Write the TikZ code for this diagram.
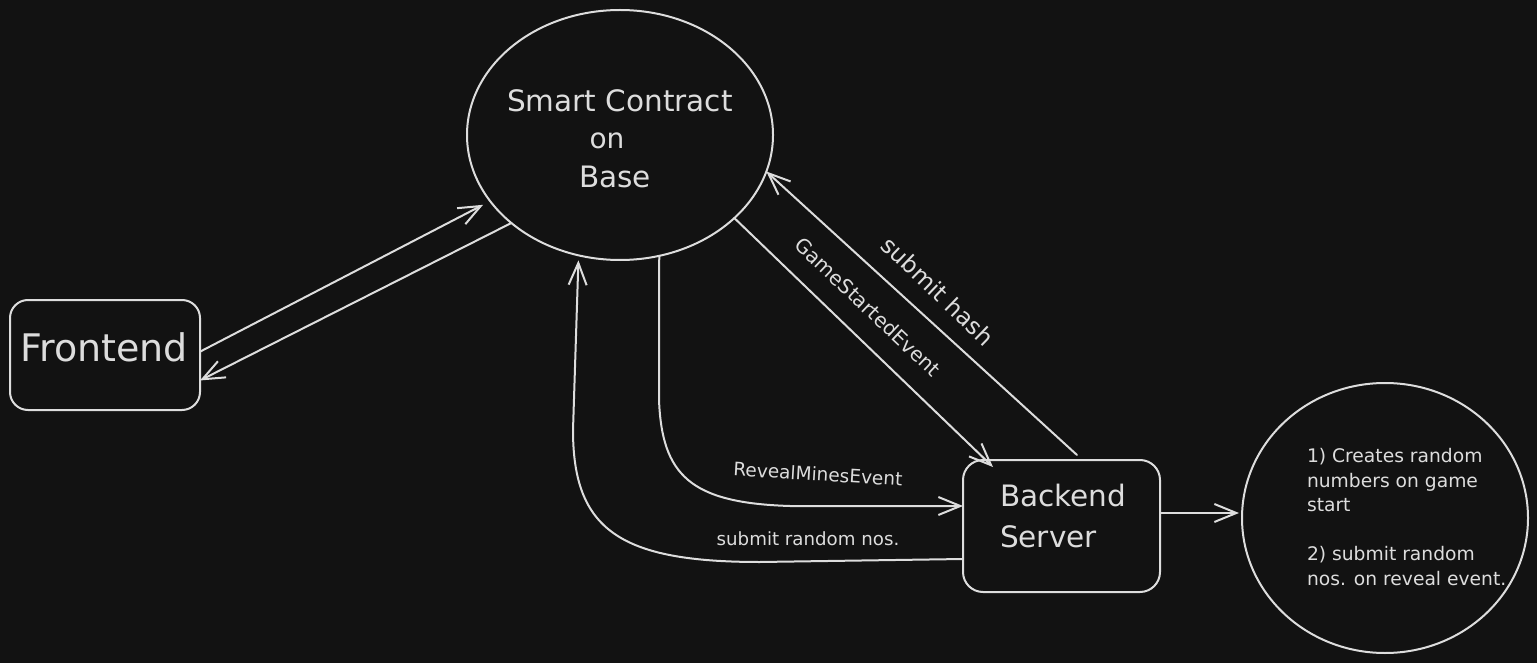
\documentclass[tikz,border=0pt]{standalone}
\usepackage{fontspec}
\setmainfont{DejaVu Sans}
\usetikzlibrary{arrows.meta,shapes.geometric}
\definecolor{bgc}{HTML}{121212}
\definecolor{ink}{HTML}{DDDDDD}
\begin{document}
\begin{tikzpicture}[x=1pt,y=-1pt,
  line width=2pt,
  every node/.style={inner sep=0pt, outer sep=0pt, text=ink},
  boxnode/.style={draw=ink, rounded corners=18pt},
  ellnode/.style={draw=ink, ellipse},
  arr/.style={draw=ink, line cap=round, line join=round, -{Straight Barb[length=22pt,width=18pt]}}]
\fill[bgc] (0,0) rectangle (1537,663);
\useasboundingbox (0,0) rectangle (1537,663);

% shapes
\node[ellnode, minimum width=306pt, minimum height=250pt] (sc) at (620,135) {};
\node[font=\fontsize{29.5}{34}\selectfont] (sct1) at (620,101) {Smart Contract};
\node[font=\fontsize{28}{34}\selectfont] (sct2) at (607,141) {on};
\node[font=\fontsize{29.5}{34}\selectfont] (sct3) at (615,177) {Base};

\node[boxnode, minimum width=190pt, minimum height=110pt] (fe) at (105,355) {};
\node[font=\fontsize{38}{44}\selectfont] (fet) at (104,347) {Frontend};

\node[boxnode, rounded corners=20pt, minimum width=197pt, minimum height=132pt] (be) at (1061.5,526) {};
\node[font=\fontsize{29.5}{41}\selectfont, align=left, anchor=west] (bet) at (1000,516) {Backend\\Server};

\node[ellnode, minimum width=286pt, minimum height=270pt] (nt) at (1385,518) {};
\node[font=\fontsize{18.7}{24.6}\selectfont, align=left, anchor=west] (ntt) at (1307,517)
  {1) Creates random\\numbers on game\\start\\[24.6pt]2) submit random\\nos. on reveal event.};

% labels
\node[font=\fontsize{20}{24}\selectfont, rotate=-43.5] (lg) at (868,307) {GameStartedEvent};
\node[font=\fontsize{23.5}{28}\selectfont, rotate=-44] (lh) at (938,291) {submit hash};
\node[font=\fontsize{18.5}{22}\selectfont, rotate=-3.4] (lr) at (818,474) {RevealMinesEvent};
\node[font=\fontsize{18.2}{22}\selectfont] (ls) at (808,539) {submit random nos.};

% connectors
\draw[arr, shorten >=8pt] (fe.2) -- (sc.207.5);
\draw[arr] (sc.219) -- (fe.-15);
\draw[arr] (sc.-36) -- ([xshift=30pt,yshift=-7pt]be.north west);
\draw[arr] ([xshift=15.5pt,yshift=5pt]be.north) -- (sc.-14);
\draw[arr] (sc.-72) -- (659,400) .. controls (662,475) and (690,503) .. (790,506) -- ([yshift=20pt]be.west);
\draw[arr, shorten >=5pt] ([yshift=-33pt]be.west) -- (760,562) .. controls (620,562) and (573,530) .. (573,430) -- (sc.-109.5);
\draw[arr, shorten >=3pt] ([yshift=13pt]be.east) -- ([yshift=5pt]nt.west);
\end{tikzpicture}
\end{document}
